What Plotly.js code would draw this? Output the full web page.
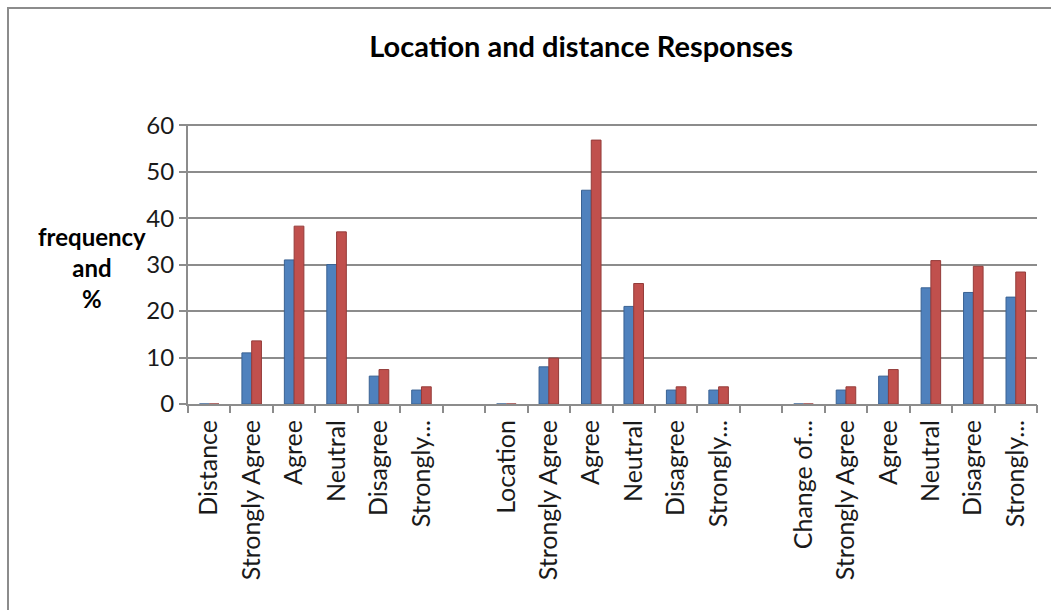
<!DOCTYPE html>
<html>
<head>
<meta charset="utf-8">
<script src="https://cdn.plot.ly/plotly-3.0.1.min.js"></script>
<style>
html,body{margin:0;padding:0;background:#fff;}
#chart{width:1051px;height:610px;position:absolute;left:0;top:0;}
#frame{position:absolute;left:7px;top:7px;width:1044px;height:603px;border-left:2px solid #8c8c8c;border-top:2px solid #8c8c8c;pointer-events:none;box-sizing:border-box;}
</style>
</head>
<body>
<div id="chart"></div>
<div id="frame"></div>
<script>
var categories = ["Distance","Strongly Agree","Agree","Neutral","Disagree","Strongly...","",
                  "Location","Strongly Agree","Agree","Neutral","Disagree","Strongly...","",
                  "Change of...","Strongly Agree","Agree","Neutral","Disagree","Strongly..."];
var frequency = [0,11,31,30,6,3,null, 0,8,46,21,3,3,null, 0,3,6,25,24,23];
var percent = [0,13.58,38.27,37.04,7.41,3.70,null, 0,9.88,56.79,25.93,3.70,3.70,null, 0,3.70,7.41,30.86,29.63,28.40];
var yTicks = [0,10,20,30,40,50,60];

var xs = categories.map(function(_, i){ return i; });
var boundaries = xs.map(function(i){ return i - 0.5; }).concat([categories.length - 0.5]);
var font = "Lato, 'Open Sans', 'Liberation Sans', sans-serif";

var traces = [
  {type:'bar', name:'frequency', x:xs, y:frequency,
   marker:{color:'#4F81BD', line:{color:'#3A6293', width:1}}},
  {type:'bar', name:'%', x:xs, y:percent,
   marker:{color:'#C0504D', line:{color:'#943C3A', width:1}}},
  {type:'scatter', x:[], y:[], xaxis:'x2', yaxis:'y', showlegend:false, hoverinfo:'skip'}
];

var layout = {
  width:1051, height:610,
  margin:{l:188, r:14, t:124, b:206},
  paper_bgcolor:'#fff', plot_bgcolor:'#fff',
  showlegend:false,
  barmode:'group', bargap:0.54, bargroupgap:0,
  title:{text:'<b>Location and distance Responses</b>', x:0.553, xanchor:'center', y:0.923, yanchor:'middle',
         font:{family:font, size:29, color:'#000'}},
  xaxis:{range:[-0.5, categories.length - 0.5], tickmode:'array', tickvals:xs, ticktext:categories,
         tickangle:-90, showgrid:false, zeroline:false,
         showline:true, linecolor:'#8c8c8c', linewidth:2,
         ticks:'', ticklabelstandoff:4,
         tickfont:{family:font, size:25, color:'#1a1a1a'}},
  xaxis2:{overlaying:'x', anchor:'y', side:'bottom', range:[-0.5, categories.length - 0.5],
          tickmode:'array', tickvals:boundaries, showticklabels:false,
          showgrid:false, zeroline:false, showline:false,
          ticks:'outside', ticklen:8, tickcolor:'#8c8c8c', tickwidth:2},
  yaxis:{range:[0,60.25], tickmode:'array', tickvals:yTicks,
         showgrid:true, gridcolor:'#8c8c8c', gridwidth:2,
         zeroline:false, showline:true, linecolor:'#8c8c8c', linewidth:2,
         ticks:'outside', ticklen:7, tickcolor:'#8c8c8c', tickwidth:2,
         tickfont:{family:font, size:24, color:'#1a1a1a'}},
  annotations:[{text:'<b>frequency</b><br><b>and</b><br><b>%</b>', xref:'paper', yref:'paper',
                x:-0.113, y:0.487, xanchor:'center', yanchor:'middle', showarrow:false, align:'center',
                font:{family:font, size:24, color:'#000'}}]
};

Plotly.newPlot('chart', traces, layout, {displayModeBar:false, staticPlot:true});
</script>
</body>
</html>
